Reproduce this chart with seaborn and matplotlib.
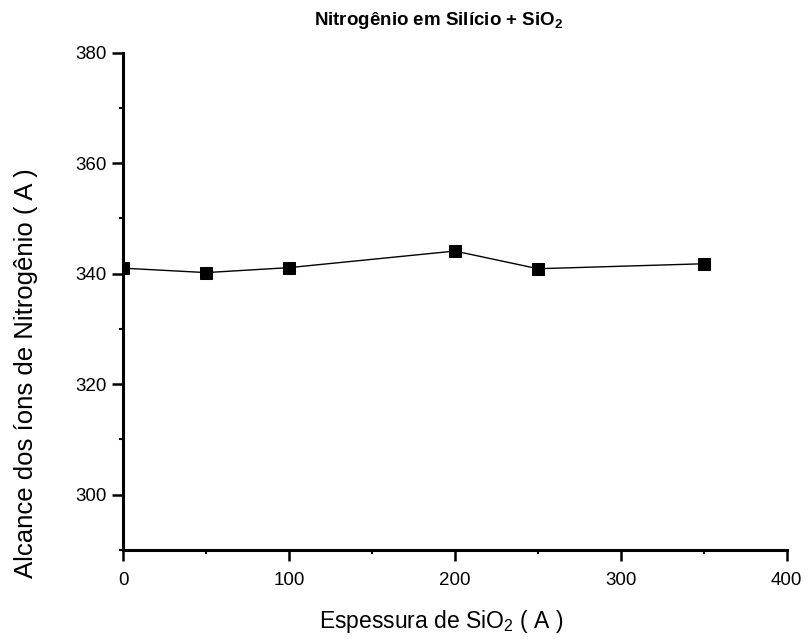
import matplotlib
matplotlib.use("Agg")
import matplotlib.pyplot as plt
from matplotlib.ticker import MultipleLocator
import pandas as pd
import seaborn as sns

# SiO2 layer thickness (A) and projected range of nitrogen ions (A)
thickness = [0, 50, 100, 200, 250, 350]
ion_range = [341.0, 340.2, 341.1, 344.1, 340.9, 341.8]
x_ticks = [0, 100, 200, 300, 400]
y_ticks = [300, 320, 340, 360, 380]

df = pd.DataFrame({"thickness": thickness, "range": ion_range})

sns.set_style("ticks")
plt.rcParams["font.family"] = ["Liberation Sans", "DejaVu Sans"]
plt.rcParams["mathtext.fontset"] = "custom"
plt.rcParams["mathtext.rm"] = "Liberation Sans"
plt.rcParams["mathtext.it"] = "Liberation Sans"
plt.rcParams["mathtext.bf"] = "Liberation Sans:bold"
plt.rcParams["text.color"] = "black"
plt.rcParams["axes.labelcolor"] = "black"

fig = plt.figure(figsize=(8.09, 6.44), dpi=100)
ax = fig.add_axes([0.1524, 0.146, 0.8200, 0.7722])

sns.lineplot(data=df, x="thickness", y="range", ax=ax, color="black",
             linewidth=1.0, marker="s", markersize=8, markeredgecolor="black",
             markerfacecolor="black")

ax.set_xlim(0, 400)
ax.set_ylim(290, 380)
ax.set_xticks(x_ticks)
ax.set_yticks(y_ticks)
ax.xaxis.set_minor_locator(MultipleLocator(50))
ax.yaxis.set_minor_locator(MultipleLocator(10))

for side in ("top", "right"):
    ax.spines[side].set_visible(False)
for side in ("left", "bottom"):
    ax.spines[side].set_linewidth(2.2)
    ax.spines[side].set_color("black")

ax.tick_params(axis="both", which="major", direction="out", length=8,
               width=1.8, labelsize=13.5, colors="black")
ax.tick_params(axis="x", which="major", pad=8)
ax.tick_params(axis="y", which="major", pad=4)
ax.tick_params(axis="both", which="minor", direction="out", length=3,
               width=1.5, colors="black")

ax.set_xlabel(r"Espessura de SiO$_2$ ( A )", fontsize=16.5)
ax.set_ylabel("Alcance dos íons de Nitrogênio ( A )", fontsize=18.5)
ax.xaxis.set_label_coords(0.479, -0.117)
ax.yaxis.set_label_coords(-0.128, 0.355)

ax.text(0.476, 1.065, r"Nitrogênio em Silício + SiO$_\mathbf{2}$",
        transform=ax.transAxes, ha="center", va="center",
        fontsize=13.5, fontweight="bold")

fig.savefig("out.png", dpi=100, facecolor="white")
